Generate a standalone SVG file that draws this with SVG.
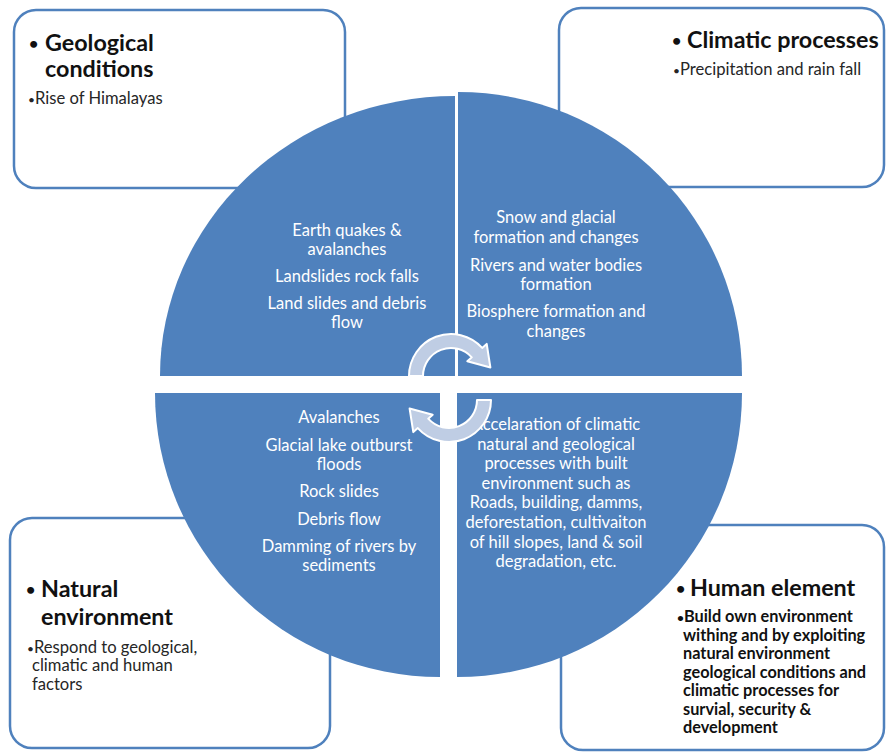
<svg xmlns="http://www.w3.org/2000/svg" width="886" height="752" viewBox="0 0 886 752">
  <style>
    .box { fill: #ffffff; stroke: #4f81bd; stroke-width: 2.5; }
    .quad { fill: #4f81bd; }
    .title { font-family: Lato, "Liberation Sans", sans-serif; font-weight: bold; font-size: 23.3px; fill: #111111; }
    .dot { font-family: Lato, "Liberation Sans", sans-serif; font-weight: bold; font-size: 16px; fill: #111111; }
    .body { font-family: Lato, "Liberation Sans", sans-serif; font-size: 16.6px; fill: #262626; }
    .bodyb { font-family: Lato, "Liberation Sans", sans-serif; font-weight: bold; font-size: 16.3px; fill: #111111; }
    .sdot { font-size: 12px; }
    .qtext { font-family: Lato, "Liberation Sans", sans-serif; font-size: 16.5px; fill: #ffffff; text-anchor: middle; }
    .cycle { fill: #bfcde4; stroke: #ffffff; stroke-width: 2; stroke-linejoin: round; }
  </style>
  <defs>
    <!-- curved cycle arrow, drawn once and reused rotated -->
    <path id="cycleArrow" d="M409,376 A42,42 0 0 1 482.2,347.9 L486.7,343.9 L490.4,367.5 L467.3,361.3 L471.8,357.3 A28,28 0 0 0 423,376 Z"/>
  </defs>

  <rect width="886" height="752" fill="#ffffff"/>

  <!-- corner boxes -->
  <g id="geological-conditions">
    <rect class="box" x="14" y="10" width="331" height="178" rx="22"/>
    <text class="dot" x="29" y="49">•</text>
    <text class="title" x="45" y="51">Geological</text>
    <text class="title" x="45" y="77">conditions</text>
    <text class="body" x="28" y="104"><tspan class="sdot">•</tspan>Rise of Himalayas</text>
  </g>
  <g id="climatic-processes">
    <rect class="box" x="559" y="8" width="325" height="179" rx="22"/>
    <text class="dot" x="672" y="46">•</text>
    <text class="title" x="687" y="48">Climatic processes</text>
    <text class="body" x="673" y="75"><tspan class="sdot">•</tspan>Precipitation and rain fall</text>
  </g>
  <g id="natural-environment">
    <rect class="box" x="10" y="518" width="320" height="230" rx="22"/>
    <text class="dot" x="26" y="595">•</text>
    <text class="title" x="41" y="597">Natural</text>
    <text class="title" x="41" y="625">environment</text>
    <text class="body" x="27" y="653"><tspan class="sdot">•</tspan>Respond to geological,</text>
    <text class="body" x="32" y="671">climatic and human</text>
    <text class="body" x="32" y="690">factors</text>
  </g>
  <g id="human-element">
    <rect class="box" x="561" y="525" width="323" height="225" rx="22"/>
    <text class="dot" x="676" y="594">•</text>
    <text class="title" x="690" y="596">Human element</text>
    <text class="bodyb" x="677" y="622"><tspan class="sdot">•</tspan>Build own environment</text>
    <text class="bodyb" x="683" y="640.5">withing and by exploiting</text>
    <text class="bodyb" x="683" y="659">natural environment</text>
    <text class="bodyb" x="683" y="677.5">geological conditions and</text>
    <text class="bodyb" x="683" y="696">climatic processes for</text>
    <text class="bodyb" x="683" y="714.5">survial, security &amp;</text>
    <text class="bodyb" x="683" y="733">development</text>
  </g>

  <!-- central circle split into four quadrants -->
  <g id="quadrant-geological">
    <path class="quad" d="M455,376 L160,376 A295,280 0 0 1 455,96 Z"/>
    <text class="qtext" x="347" y="236">Earth quakes &amp;</text>
    <text class="qtext" x="347" y="255">avalanches</text>
    <text class="qtext" x="347" y="282">Landslides rock falls</text>
    <text class="qtext" x="347" y="309">Land slides and debris</text>
    <text class="qtext" x="347" y="328">flow</text>
  </g>
  <g id="quadrant-climatic">
    <path class="quad" d="M458,376 L458,92 A284,284 0 0 1 742,376 Z"/>
    <text class="qtext" x="556" y="223">Snow and glacial</text>
    <text class="qtext" x="556" y="243">formation and changes</text>
    <text class="qtext" x="556" y="271">Rivers and water bodies</text>
    <text class="qtext" x="556" y="290">formation</text>
    <text class="qtext" x="556" y="317">Biosphere formation and</text>
    <text class="qtext" x="556" y="337">changes</text>
  </g>
  <g id="quadrant-natural">
    <path class="quad" d="M440,393 L440,677 A285,284 0 0 1 155,393 Z"/>
    <text class="qtext" x="339" y="423">Avalanches</text>
    <text class="qtext" x="339" y="451">Glacial lake outburst</text>
    <text class="qtext" x="339" y="470">floods</text>
    <text class="qtext" x="339" y="497">Rock slides</text>
    <text class="qtext" x="339" y="525">Debris flow</text>
    <text class="qtext" x="339" y="552">Damming of rivers by</text>
    <text class="qtext" x="339" y="571">sediments</text>
  </g>
  <g id="quadrant-human">
    <path class="quad" d="M457,393 L742,393 A285,284 0 0 1 457,677 Z"/>
    <text class="qtext" x="556" y="430">Accelaration of climatic</text>
    <text class="qtext" x="556" y="449.6">natural and geological</text>
    <text class="qtext" x="556" y="469.2">processes with built</text>
    <text class="qtext" x="556" y="488.8">environment such as</text>
    <text class="qtext" x="556" y="508.4">Roads, building, damms,</text>
    <text class="qtext" x="556" y="528">deforestation, cultivaiton</text>
    <text class="qtext" x="556" y="547.6">of hill slopes, land &amp; soil</text>
    <text class="qtext" x="556" y="567.2">degradation, etc.</text>
  </g>

  <!-- cycle arrows -->
  <g id="connectors">
    <use href="#cycleArrow" class="cycle"/>
    <use href="#cycleArrow" class="cycle" transform="rotate(180 450 388)"/>
  </g>
</svg>
